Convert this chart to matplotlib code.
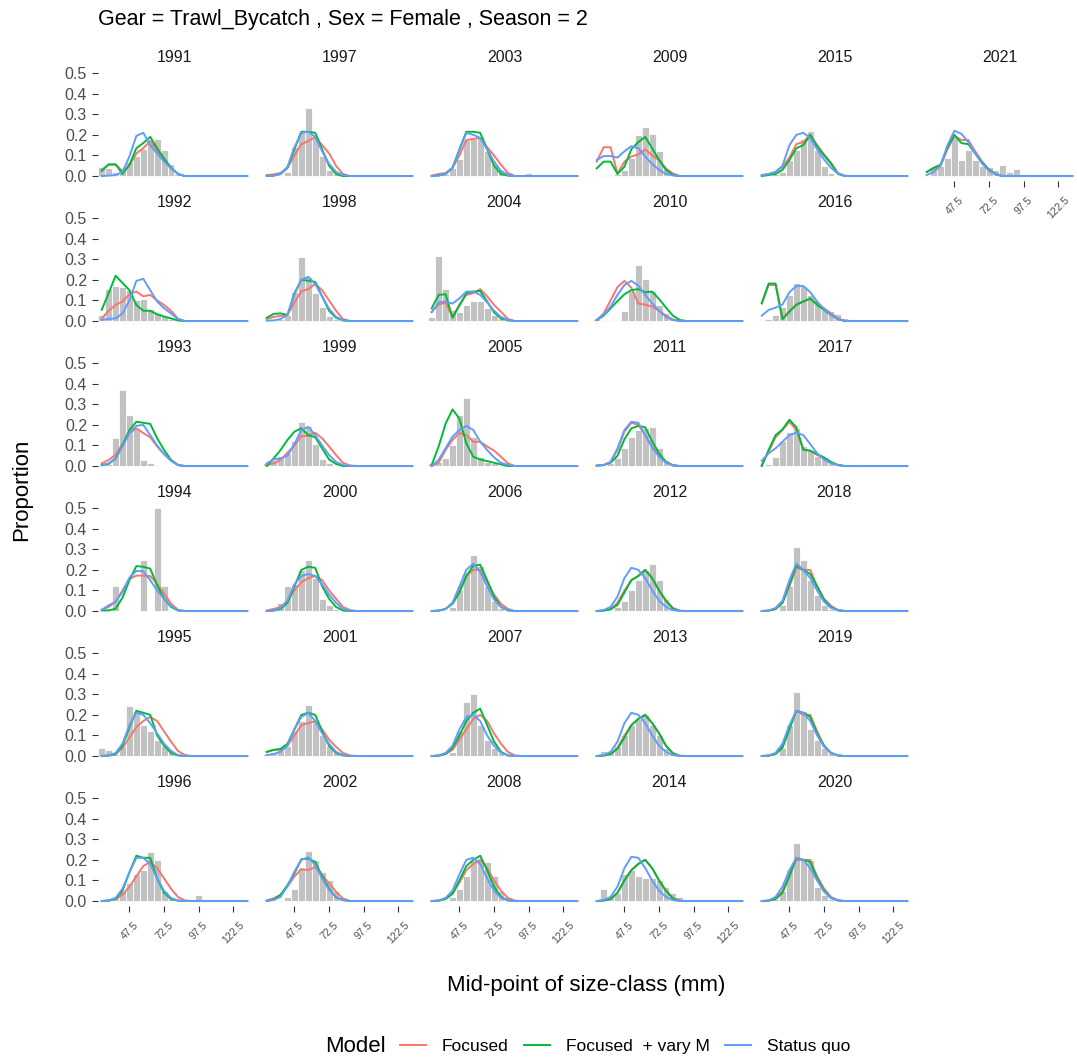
import matplotlib

matplotlib.use("Agg")
import matplotlib.pyplot as plt
import numpy as np
from matplotlib.lines import Line2D

plt.rcParams["font.family"] = ["Liberation Sans", "DejaVu Sans"]

MIDPOINTS = np.arange(27.5, 133, 5.0)  # 22 size classes, 27.5 .. 132.5 mm
X_TICKS = [47.5, 72.5, 97.5, 122.5]
Y_TICKS = [0.0, 0.1, 0.2, 0.3, 0.4, 0.5]
YEARS = list(range(1991, 2022))

MODELS = ["Focused", "Focused  + vary M", "Status quo"]
COLORS = ["#F8766D", "#00BA38", "#619CFF"]

# observed proportions by size class (trailing classes are zero)
OBS = {
    1991: [0.045, 0.04, 0.02, 0.03, 0.07, 0.095, 0.13, 0.16, 0.18, 0.125, 0.06, 0.012],
    1992: [0.03, 0.155, 0.17, 0.165, 0.15, 0.1, 0.105, 0.058, 0.037, 0.025, 0.012, 0.005],
    1993: [0.003, 0.01, 0.135, 0.37, 0.25, 0.183, 0.03, 0.013, 0.006, 0.002],
    1994: [0.0, 0.0, 0.12, 0.0, 0.0, 0.0, 0.25, 0.0, 0.5, 0.12],
    1995: [0.04, 0.03, 0.01, 0.05, 0.245, 0.22, 0.15, 0.12, 0.08, 0.05, 0.02, 0.01],
    1996: [0.0, 0.005, 0.02, 0.05, 0.09, 0.13, 0.15, 0.24, 0.2, 0.05, 0.02, 0.005, 0.0, 0.0, 0.03],
    1997: [0.0, 0.0, 0.005, 0.02, 0.14, 0.215, 0.33, 0.19, 0.095, 0.03, 0.012, 0.005],
    1998: [0.005, 0.005, 0.01, 0.03, 0.143, 0.31, 0.215, 0.135, 0.07, 0.025, 0.012, 0.005],
    1999: [0.013, 0.03, 0.05, 0.065, 0.12, 0.215, 0.195, 0.107, 0.032, 0.013, 0.003, 0.0, 0.008, 0.008],
    2000: [0.0, 0.005, 0.04, 0.12, 0.13, 0.2, 0.25, 0.16, 0.06, 0.03, 0.01, 0.003],
    2001: [0.01, 0.02, 0.03, 0.05, 0.12, 0.17, 0.25, 0.17, 0.1, 0.05, 0.02, 0.01],
    2002: [0.0, 0.0, 0.005, 0.02, 0.06, 0.16, 0.245, 0.2, 0.14, 0.1, 0.05, 0.01, 0.003, 0.005],
    2003: [0.0, 0.005, 0.01, 0.04, 0.085, 0.175, 0.18, 0.19, 0.12, 0.06, 0.03, 0.01, 0.0, 0.012, 0.013],
    2004: [0.02, 0.315, 0.155, 0.055, 0.045, 0.078, 0.097, 0.097, 0.065, 0.03, 0.017, 0.007, 0.003],
    2005: [0.013, 0.02, 0.037, 0.1, 0.25, 0.33, 0.14, 0.045, 0.02, 0.013, 0.005],
    2006: [0.0, 0.0, 0.005, 0.02, 0.1, 0.19, 0.27, 0.22, 0.12, 0.05, 0.015, 0.005],
    2007: [0.0, 0.0, 0.005, 0.02, 0.12, 0.26, 0.3, 0.15, 0.08, 0.04, 0.015, 0.005],
    2008: [0.0, 0.0, 0.005, 0.02, 0.06, 0.12, 0.2, 0.2, 0.19, 0.12, 0.05, 0.02, 0.01, 0.005],
    2009: [0.0, 0.003, 0.005, 0.01, 0.03, 0.09, 0.2, 0.24, 0.205, 0.12, 0.035, 0.012, 0.005, 0.003],
    2010: [0.012, 0.003, 0.003, 0.005, 0.05, 0.145, 0.27, 0.205, 0.147, 0.08, 0.037, 0.012, 0.005],
    2011: [0.0, 0.005, 0.013, 0.037, 0.086, 0.14, 0.175, 0.183, 0.188, 0.09, 0.03, 0.008],
    2012: [0.0, 0.0, 0.005, 0.02, 0.05, 0.1, 0.15, 0.2, 0.23, 0.15, 0.06, 0.02, 0.005],
    2013: [0.0, 0.025, 0.025, 0.05, 0.1, 0.15, 0.18, 0.2, 0.15, 0.1, 0.04, 0.01, 0.005],
    2014: [0.0, 0.06, 0.02, 0.04, 0.13, 0.15, 0.12, 0.11, 0.11, 0.1, 0.07, 0.04, 0.02, 0.01],
    2015: [0.0, 0.005, 0.01, 0.02, 0.078, 0.125, 0.18, 0.22, 0.125, 0.05, 0.017, 0.005],
    2016: [0.005, 0.01, 0.03, 0.07, 0.125, 0.185, 0.17, 0.125, 0.085, 0.06, 0.048, 0.036, 0.016, 0.008, 0.005, 0.003],
    2017: [0.005, 0.008, 0.045, 0.123, 0.167, 0.183, 0.095, 0.08, 0.05, 0.037, 0.02, 0.013, 0.005, 0.0, 0.008],
    2018: [0.0, 0.0, 0.005, 0.03, 0.12, 0.31, 0.25, 0.15, 0.08, 0.03, 0.01, 0.005],
    2019: [0.0, 0.0, 0.005, 0.04, 0.15, 0.31, 0.22, 0.13, 0.08, 0.04, 0.015, 0.005],
    2020: [0.0, 0.0, 0.01, 0.05, 0.15, 0.28, 0.2, 0.2, 0.07, 0.03, 0.01, 0.005],
    2021: [0.005, 0.045, 0.05, 0.09, 0.19, 0.08, 0.125, 0.078, 0.05, 0.045, 0.03, 0.053, 0.02, 0.032, 0.01],
}

FOCUSED = {
    1991: [0.03, 0.055, 0.055, 0.025, 0.05, 0.11, 0.135, 0.17, 0.125, 0.08, 0.04, 0.01],
    1992: [0.012, 0.05, 0.078, 0.095, 0.13, 0.143, 0.12, 0.127, 0.1, 0.078, 0.05, 0.012],
    1993: [0.013, 0.03, 0.054, 0.107, 0.16, 0.183, 0.16, 0.14, 0.095, 0.058, 0.026, 0.005],
    1994: [0.006, 0.02, 0.045, 0.1, 0.157, 0.172, 0.172, 0.17, 0.133, 0.085, 0.036, 0.006],
    1995: [0.0, 0.003, 0.01, 0.04, 0.09, 0.14, 0.17, 0.19, 0.17, 0.12, 0.07, 0.025, 0.005],
    1996: [0.0, 0.003, 0.01, 0.03, 0.07, 0.12, 0.17, 0.19, 0.16, 0.11, 0.06, 0.02, 0.003],
    1997: [0.005, 0.008, 0.015, 0.04, 0.1, 0.155, 0.17, 0.19, 0.15, 0.11, 0.05, 0.01],
    1998: [0.01, 0.02, 0.025, 0.03, 0.09, 0.145, 0.155, 0.18, 0.15, 0.1, 0.05, 0.01],
    1999: [0.005, 0.013, 0.03, 0.065, 0.1, 0.146, 0.146, 0.162, 0.135, 0.095, 0.054, 0.016, 0.003],
    2000: [0.003, 0.01, 0.02, 0.05, 0.1, 0.14, 0.16, 0.17, 0.15, 0.1, 0.06, 0.02, 0.005],
    2001: [0.02, 0.03, 0.03, 0.05, 0.1, 0.15, 0.16, 0.17, 0.13, 0.08, 0.045, 0.015, 0.003],
    2002: [0.003, 0.013, 0.03, 0.07, 0.12, 0.155, 0.15, 0.165, 0.127, 0.086, 0.045, 0.013],
    2003: [0.002, 0.01, 0.015, 0.04, 0.1, 0.175, 0.18, 0.185, 0.14, 0.1, 0.055, 0.015],
    2004: [0.045, 0.08, 0.09, 0.02, 0.08, 0.127, 0.135, 0.155, 0.12, 0.078, 0.045, 0.01],
    2005: [0.0, 0.016, 0.078, 0.127, 0.16, 0.15, 0.118, 0.118, 0.095, 0.075, 0.045, 0.013],
    2006: [0.0, 0.002, 0.01, 0.04, 0.1, 0.17, 0.2, 0.2, 0.14, 0.08, 0.035, 0.01],
    2007: [0.0, 0.002, 0.01, 0.03, 0.08, 0.13, 0.18, 0.2, 0.17, 0.11, 0.06, 0.02, 0.003],
    2008: [0.0, 0.002, 0.01, 0.035, 0.09, 0.15, 0.18, 0.2, 0.16, 0.1, 0.05, 0.015, 0.002],
    2009: [0.07, 0.14, 0.14, 0.012, 0.07, 0.095, 0.105, 0.13, 0.1, 0.078, 0.037, 0.012],
    2010: [0.005, 0.037, 0.1, 0.165, 0.195, 0.162, 0.085, 0.08, 0.07, 0.05, 0.026, 0.008],
    2011: [0.002, 0.005, 0.02, 0.078, 0.167, 0.21, 0.2, 0.15, 0.095, 0.05, 0.02, 0.005],
    2012: [0.0, 0.003, 0.01, 0.04, 0.1, 0.15, 0.17, 0.2, 0.16, 0.1, 0.05, 0.015, 0.002],
    2013: [0.0, 0.003, 0.01, 0.04, 0.1, 0.15, 0.18, 0.2, 0.16, 0.11, 0.05, 0.015, 0.002],
    2014: [0.0, 0.003, 0.01, 0.04, 0.1, 0.15, 0.18, 0.2, 0.16, 0.1, 0.05, 0.015, 0.002],
    2015: [0.005, 0.01, 0.02, 0.045, 0.09, 0.155, 0.165, 0.2, 0.15, 0.105, 0.065, 0.015, 0.002],
    2016: [0.086, 0.175, 0.175, 0.01, 0.05, 0.078, 0.095, 0.107, 0.086, 0.062, 0.037, 0.013],
    2017: [0.005, 0.07, 0.14, 0.175, 0.215, 0.175, 0.08, 0.073, 0.054, 0.037, 0.016, 0.005],
    2018: [0.0, 0.002, 0.01, 0.04, 0.12, 0.21, 0.2, 0.2, 0.12, 0.06, 0.025, 0.005],
    2019: [0.0, 0.002, 0.01, 0.05, 0.14, 0.22, 0.2, 0.2, 0.12, 0.05, 0.015, 0.003],
    2020: [0.0, 0.002, 0.01, 0.05, 0.13, 0.2, 0.2, 0.2, 0.12, 0.06, 0.02, 0.004],
    2021: [0.02, 0.035, 0.05, 0.13, 0.195, 0.175, 0.175, 0.12, 0.07, 0.03, 0.01],
}

FOCUSED_VARY_M = {
    1991: [0.025, 0.057, 0.057, 0.01, 0.055, 0.135, 0.16, 0.19, 0.135, 0.085, 0.04, 0.01],
    1992: [0.055, 0.135, 0.22, 0.185, 0.15, 0.078, 0.05, 0.05, 0.033, 0.022, 0.013, 0.003],
    1993: [0.005, 0.01, 0.037, 0.1, 0.175, 0.215, 0.21, 0.205, 0.135, 0.078, 0.03, 0.005],
    1994: [0.003, 0.003, 0.011, 0.065, 0.15, 0.218, 0.215, 0.206, 0.125, 0.06, 0.02, 0.003],
    1995: [0.0, 0.002, 0.01, 0.05, 0.14, 0.22, 0.21, 0.2, 0.1, 0.05, 0.015, 0.003],
    1996: [0.0, 0.002, 0.01, 0.05, 0.14, 0.22, 0.21, 0.21, 0.11, 0.04, 0.01, 0.002],
    1997: [0.0, 0.002, 0.01, 0.04, 0.13, 0.215, 0.215, 0.21, 0.13, 0.05, 0.01],
    1998: [0.016, 0.035, 0.037, 0.03, 0.135, 0.2, 0.196, 0.19, 0.12, 0.05, 0.016, 0.003],
    1999: [0.0, 0.037, 0.078, 0.127, 0.167, 0.183, 0.15, 0.14, 0.086, 0.032, 0.01],
    2000: [0.0, 0.002, 0.01, 0.04, 0.12, 0.2, 0.215, 0.21, 0.12, 0.06, 0.02, 0.003],
    2001: [0.02, 0.03, 0.035, 0.06, 0.13, 0.2, 0.21, 0.2, 0.12, 0.05, 0.015, 0.003],
    2002: [0.0, 0.008, 0.03, 0.078, 0.135, 0.203, 0.206, 0.19, 0.12, 0.06, 0.018, 0.005],
    2003: [0.0, 0.003, 0.01, 0.04, 0.13, 0.215, 0.215, 0.21, 0.13, 0.05, 0.01, 0.002],
    2004: [0.062, 0.127, 0.13, 0.016, 0.075, 0.135, 0.143, 0.146, 0.095, 0.042, 0.013, 0.003],
    2005: [0.005, 0.095, 0.205, 0.275, 0.23, 0.11, 0.045, 0.032, 0.024, 0.016, 0.008],
    2006: [0.0, 0.002, 0.01, 0.035, 0.09, 0.17, 0.22, 0.225, 0.15, 0.07, 0.02, 0.003],
    2007: [0.0, 0.002, 0.01, 0.04, 0.1, 0.17, 0.21, 0.23, 0.15, 0.07, 0.02, 0.003],
    2008: [0.0, 0.002, 0.01, 0.035, 0.1, 0.17, 0.2, 0.22, 0.15, 0.07, 0.02, 0.003],
    2009: [0.037, 0.07, 0.07, 0.01, 0.045, 0.13, 0.165, 0.19, 0.135, 0.078, 0.03, 0.005],
    2010: [0.005, 0.026, 0.062, 0.097, 0.13, 0.15, 0.155, 0.14, 0.143, 0.107, 0.065, 0.026, 0.005],
    2011: [0.002, 0.005, 0.016, 0.05, 0.13, 0.183, 0.195, 0.188, 0.12, 0.062, 0.02, 0.003],
    2012: [0.0, 0.002, 0.008, 0.03, 0.09, 0.15, 0.17, 0.2, 0.16, 0.1, 0.05, 0.012],
    2013: [0.0, 0.002, 0.01, 0.035, 0.09, 0.15, 0.18, 0.2, 0.16, 0.11, 0.05, 0.012],
    2014: [0.0, 0.002, 0.01, 0.04, 0.1, 0.15, 0.18, 0.2, 0.16, 0.1, 0.05, 0.012],
    2015: [0.0, 0.005, 0.01, 0.03, 0.078, 0.135, 0.15, 0.2, 0.145, 0.1, 0.06, 0.01],
    2016: [0.086, 0.182, 0.182, 0.01, 0.045, 0.08, 0.095, 0.11, 0.078, 0.054, 0.03, 0.01],
    2017: [0.0, 0.078, 0.15, 0.178, 0.225, 0.188, 0.08, 0.075, 0.058, 0.042, 0.02, 0.005],
    2018: [0.0, 0.002, 0.01, 0.04, 0.13, 0.22, 0.2, 0.18, 0.12, 0.055, 0.02, 0.004],
    2019: [0.0, 0.002, 0.01, 0.04, 0.13, 0.22, 0.21, 0.19, 0.11, 0.05, 0.015, 0.003],
    2020: [0.0, 0.002, 0.01, 0.04, 0.12, 0.21, 0.2, 0.19, 0.11, 0.05, 0.015, 0.003],
    2021: [0.02, 0.04, 0.055, 0.14, 0.2, 0.16, 0.155, 0.11, 0.065, 0.03, 0.008],
}

STATUS_QUO = {
    1991: [0.0, 0.002, 0.005, 0.02, 0.095, 0.195, 0.21, 0.15, 0.11, 0.07, 0.037, 0.012],
    1992: [0.005, 0.01, 0.013, 0.037, 0.1, 0.195, 0.205, 0.15, 0.095, 0.062, 0.037, 0.01],
    1993: [0.003, 0.013, 0.037, 0.095, 0.16, 0.195, 0.2, 0.15, 0.1, 0.058, 0.026, 0.005],
    1994: [0.006, 0.028, 0.045, 0.093, 0.162, 0.195, 0.193, 0.15, 0.1, 0.06, 0.023, 0.003],
    1995: [0.0, 0.003, 0.015, 0.06, 0.15, 0.21, 0.2, 0.16, 0.11, 0.06, 0.025, 0.005],
    1996: [0.0, 0.003, 0.015, 0.06, 0.14, 0.21, 0.21, 0.18, 0.11, 0.05, 0.015, 0.003],
    1997: [0.0, 0.002, 0.01, 0.045, 0.14, 0.21, 0.215, 0.19, 0.12, 0.06, 0.02, 0.005],
    1998: [0.002, 0.003, 0.01, 0.03, 0.13, 0.2, 0.215, 0.18, 0.12, 0.06, 0.02, 0.005],
    1999: [0.013, 0.032, 0.037, 0.05, 0.107, 0.175, 0.19, 0.15, 0.1, 0.054, 0.02, 0.005],
    2000: [0.0, 0.003, 0.015, 0.05, 0.13, 0.17, 0.18, 0.17, 0.13, 0.08, 0.04, 0.01, 0.002],
    2001: [0.005, 0.01, 0.02, 0.05, 0.13, 0.19, 0.21, 0.17, 0.11, 0.06, 0.02, 0.005],
    2002: [0.0, 0.005, 0.02, 0.073, 0.143, 0.2, 0.212, 0.175, 0.11, 0.054, 0.018, 0.005],
    2003: [0.0, 0.002, 0.01, 0.04, 0.125, 0.21, 0.2, 0.185, 0.13, 0.07, 0.025, 0.005],
    2004: [0.042, 0.09, 0.095, 0.085, 0.11, 0.143, 0.143, 0.127, 0.09, 0.05, 0.02, 0.005],
    2005: [0.0, 0.03, 0.086, 0.143, 0.175, 0.195, 0.175, 0.118, 0.078, 0.042, 0.016, 0.005],
    2006: [0.0, 0.002, 0.01, 0.04, 0.12, 0.2, 0.23, 0.19, 0.12, 0.055, 0.02, 0.004],
    2007: [0.0, 0.003, 0.015, 0.05, 0.13, 0.19, 0.2, 0.17, 0.1, 0.05, 0.015, 0.003],
    2008: [0.0, 0.003, 0.015, 0.05, 0.13, 0.2, 0.21, 0.18, 0.11, 0.05, 0.015, 0.003],
    2009: [0.078, 0.097, 0.097, 0.09, 0.12, 0.145, 0.135, 0.095, 0.058, 0.03, 0.01, 0.003],
    2010: [0.005, 0.03, 0.07, 0.127, 0.175, 0.195, 0.172, 0.127, 0.086, 0.05, 0.02, 0.005],
    2011: [0.002, 0.005, 0.02, 0.086, 0.175, 0.215, 0.21, 0.15, 0.09, 0.045, 0.016, 0.003],
    2012: [0.0, 0.005, 0.02, 0.07, 0.16, 0.21, 0.2, 0.16, 0.1, 0.05, 0.02, 0.005],
    2013: [0.0, 0.005, 0.02, 0.07, 0.16, 0.21, 0.2, 0.16, 0.1, 0.05, 0.02, 0.005],
    2014: [0.0, 0.005, 0.02, 0.07, 0.16, 0.215, 0.21, 0.16, 0.1, 0.05, 0.02, 0.005],
    2015: [0.003, 0.01, 0.02, 0.05, 0.15, 0.2, 0.21, 0.185, 0.13, 0.08, 0.04, 0.012],
    2016: [0.026, 0.054, 0.065, 0.08, 0.14, 0.17, 0.17, 0.14, 0.095, 0.058, 0.03, 0.01],
    2017: [0.026, 0.062, 0.086, 0.118, 0.15, 0.162, 0.15, 0.107, 0.062, 0.032, 0.013, 0.005],
    2018: [0.0, 0.003, 0.015, 0.05, 0.15, 0.23, 0.2, 0.16, 0.1, 0.045, 0.015, 0.003],
    2019: [0.0, 0.003, 0.015, 0.06, 0.15, 0.22, 0.21, 0.17, 0.1, 0.045, 0.015, 0.003],
    2020: [0.0, 0.003, 0.02, 0.07, 0.15, 0.21, 0.2, 0.16, 0.1, 0.045, 0.015, 0.003],
    2021: [0.005, 0.02, 0.05, 0.15, 0.22, 0.205, 0.165, 0.11, 0.06, 0.025, 0.008],
}

SERIES = [FOCUSED, FOCUSED_VARY_M, STATUS_QUO]

TITLE = "Gear = Trawl_Bycatch , Sex = Female , Season = 2"

# facet grid geometry, in pixels
W, H = 1077, 1064
N_ROWS = 6
PANEL_W, PANEL_H = 153.5, 113.3
COL_STEP, ROW_STEP = 165.0, 145.0
X0, Y0 = 97.7, 67.9
XLIM = (24.6, 135.4)
YLIM = (-0.025, 0.525)

TEXT_GREY = "#4D4D4D"
TICK_GREY = "#333333"
BAR_GREY = "#C2C2C2"


def full(values):
    out = np.zeros(len(MIDPOINTS))
    out[: len(values)] = values
    return out


def main() -> None:
    fig = plt.figure(figsize=(W / 100, H / 100), dpi=100)

    for i, year in enumerate(YEARS):
        col, row = divmod(i, N_ROWS)
        left = X0 + COL_STEP * col
        top = Y0 + ROW_STEP * row
        ax = fig.add_axes([left / W, 1 - (top + PANEL_H) / H, PANEL_W / W, PANEL_H / H])

        ax.bar(MIDPOINTS, full(OBS[year]), width=5, color=BAR_GREY,
               edgecolor="white", linewidth=0.6, zorder=1)
        for series, color in zip(SERIES, COLORS):
            ax.plot(MIDPOINTS, full(series[year]), color=color, lw=1.4, zorder=2)

        ax.set_xlim(*XLIM)
        ax.set_ylim(*YLIM)
        for s in ax.spines.values():
            s.set_visible(False)
        ax.set_title(str(year), fontsize=11.5, color="#1A1A1A", pad=4)

        # facet_wrap style: x axis only under the last panel of each column
        last_in_col = (row == N_ROWS - 1) or (i == len(YEARS) - 1)
        ax.set_xticks(X_TICKS)
        if last_in_col:
            ax.set_xticklabels([f"{t:g}" for t in X_TICKS], rotation=45, ha="center",
                               va="top", fontsize=7.5, color=TEXT_GREY)
            ax.tick_params(axis="x", length=4, color=TICK_GREY, width=0.8, pad=6)
        else:
            ax.tick_params(axis="x", length=0, labelbottom=False)

        ax.set_yticks(Y_TICKS)
        if col == 0:
            ax.set_yticklabels([f"{t:.1f}" for t in Y_TICKS], fontsize=11.5, color=TEXT_GREY)
            ax.tick_params(axis="y", length=4.3, color=TICK_GREY, width=0.8, pad=3.4)
        else:
            ax.tick_params(axis="y", length=0, labelleft=False)

    fig.text(98 / W, 1 - 20 / H, TITLE, fontsize=15.5, ha="left", va="center", color="black")
    fig.text(22 / W, 1 - 490 / H, "Proportion", fontsize=16, rotation=90,
             ha="center", va="center")
    fig.text(586 / W, 1 - 985 / H, "Mid-point of size-class (mm)", fontsize=16,
             ha="center", va="center")

    # legend along the bottom
    fig.text(325 / W, 1 - 1046 / H, "Model", fontsize=16, ha="left", va="center")
    handles = [Line2D([], [], color=c, lw=1.4) for c in COLORS]
    fig.legend(handles, MODELS, loc="center left", bbox_to_anchor=(400 / W, 1 - 1046 / H),
               ncol=3, frameon=False, fontsize=12.5, handlelength=1.5,
               handletextpad=0.9, columnspacing=0.9, borderaxespad=0, borderpad=0)

    fig.savefig("out.png", dpi=100)
    plt.close(fig)


if __name__ == "__main__":
    main()
